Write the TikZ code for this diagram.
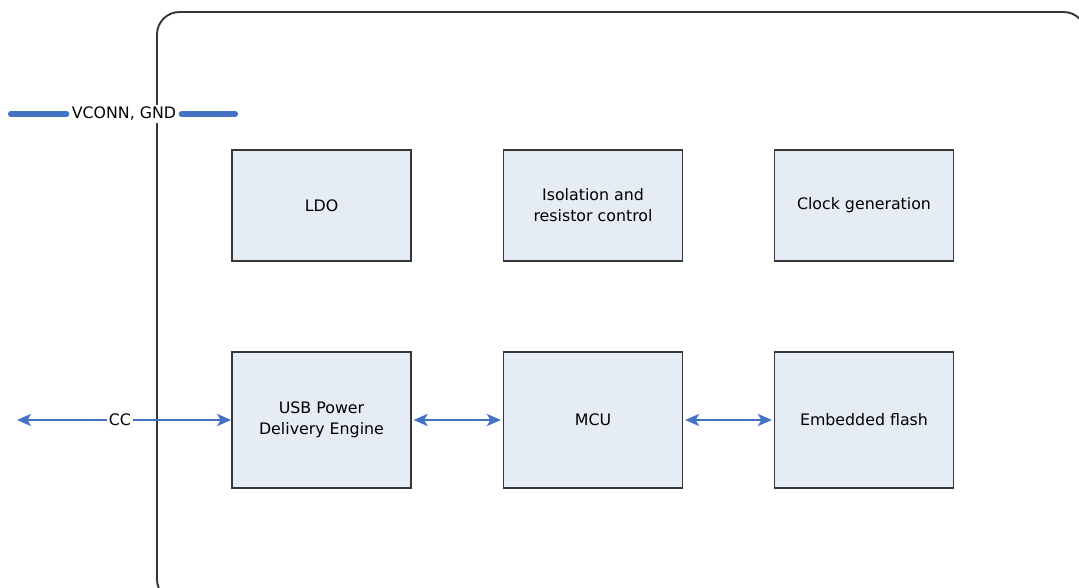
\documentclass[tikz,border=0pt]{standalone}
\usepackage{fontspec}
\setmainfont{DejaVu Sans}
\usetikzlibrary{arrows.meta}
\definecolor{BoxFill}{RGB}{230,236,246}
\definecolor{LinkBlue}{RGB}{68,114,196}
\definecolor{FrameGrey}{RGB}{55,55,55}
\tikzset{
  block/.style={
    draw=FrameGrey,
    fill=BoxFill,
    line width=1pt,
    align=center,
    minimum width=3.58cm,
    font=\fontsize{9}{12}\selectfont,
  },
  block top/.style={
    block,
    minimum height=2.22cm,
  },
  block bottom/.style={
    block,
    minimum height=2.72cm,
  },
  link/.style={
    draw=LinkBlue,
    thick,
    {Stealth[length=8pt,width=7pt,inset=2pt]}-{Stealth[length=8pt,width=7pt,inset=2pt]},
  },
  bus/.style={
    draw=LinkBlue,
    line width=3.5pt,
    line cap=round,
  },
  pin label/.style={
    fill=white,
    inner xsep=1pt,
    inner ysep=1pt,
    font=\fontsize{9}{12}\selectfont,
  },
}

\begin{document}
\begin{tikzpicture}
  \useasboundingbox (0,0) rectangle (21.58,11.74);
  % chip outline
  \begin{scope}
    \clip (0,0) rectangle (21.58,11.74);
    \draw[FrameGrey, line width=1.1pt, rounded corners=0.45cm] (3.14,-0.3) rectangle (21.72,11.5);
  \end{scope}
  % blocks
  \node[block top] (ldo) at (6.43,7.63) {LDO};
  \node[block top] (iso) at (11.86,7.63) {Isolation and\\resistor control};
  \node[block top] (clk) at (17.28,7.63) {Clock generation};
  \node[block bottom] (pd) at (6.43,3.34) {USB Power\\Delivery Engine};
  \node[block bottom] (mcu) at (11.86,3.34) {MCU};
  \node[block bottom] (flash) at (17.28,3.34) {Embedded flash};
  % connections
  \draw[link, shorten <=1pt, shorten >=1pt] (pd) -- (mcu);
  \draw[link, shorten <=1pt, shorten >=1pt] (mcu) -- (flash);
  % CC pin
  \coordinate (ccend) at (0.34,3.34);
  \node[pin label] (cc) at (2.4,3.34) {CC};
  \draw[link] (ccend) -- (pd.west);
  \node[pin label] at (cc) {CC};
  % VCONN bus
  \coordinate (vleft) at (0.22,9.46);
  \coordinate (vright) at (4.7,9.46);
  \node[pin label, inner xsep=3pt] (vconn) at (2.48,9.46) {VCONN, GND};
  \draw[bus] (vleft) -- (vconn.west);
  \draw[bus] (vconn.east) -- (vright);
\end{tikzpicture}
\end{document}
